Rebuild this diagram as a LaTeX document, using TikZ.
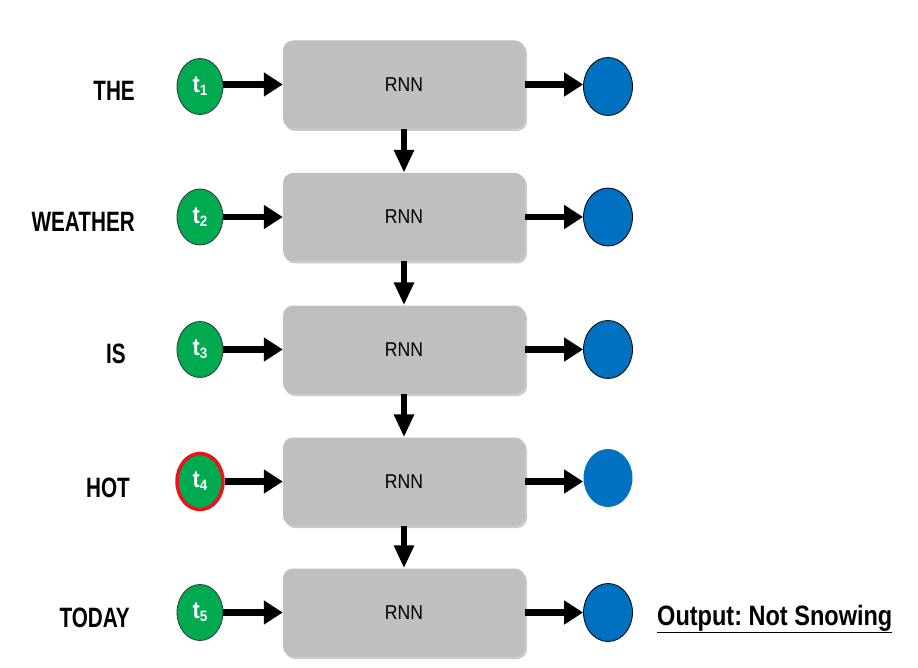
\documentclass[tikz,border=0pt]{standalone}
\usepackage{fontspec}
\setmainfont{Liberation Sans}
\newfontfamily\lblfont[FakeStretch=0.74]{Liberation Sans}
\newfontfamily\outfont[FakeStretch=0.84]{Liberation Sans}
\newfontfamily\rnnfont[FakeStretch=0.88]{Liberation Sans}
\newfontfamily\tfont[FakeStretch=0.9]{Liberation Sans}
\usetikzlibrary{arrows.meta,shapes.geometric,shadows}
\definecolor{ingreen}{RGB}{0,170,80}
\definecolor{outblue}{RGB}{0,112,192}
\definecolor{boxgray}{RGB}{191,191,191}
\definecolor{hotred}{RGB}{232,20,28}
\newcommand{\tsub}[1]{t\raisebox{-3pt}{\fontsize{15}{16}\selectfont #1}}
\frenchspacing
\begin{document}
\begin{tikzpicture}[x=1pt,y=-1pt,
  rnnbox/.style={rectangle, rounded corners=10pt, fill=boxgray, minimum width=242pt, minimum height=88pt,
    drop shadow={shadow xshift=2pt, shadow yshift=-2.5pt, opacity=0.35, fill=black!60},
    font=\rnnfont\fontsize{20}{24}\selectfont},
  innode/.style={ellipse, fill=ingreen, draw=black!80, line width=0.8pt, minimum width=46pt, minimum height=56pt, inner sep=0pt,
    text=white, font=\tfont\bfseries\fontsize{24}{26}\selectfont},
  outnode/.style={ellipse, fill=outblue, draw=black, line width=0.8pt, minimum width=49pt, minimum height=58pt, inner sep=0pt},
  lbl/.style={anchor=east, inner sep=0pt, text depth=0pt, font=\lblfont\bfseries\fontsize{28}{32}\selectfont},
  harr/.style={line width=6.5pt, -{Triangle[length=19pt,width=23pt]}},
  varr/.style={line width=6.5pt, -{Triangle[length=23pt,width=19pt]}}
]
\useasboundingbox (0,0) rectangle (918,668);

% rows
\foreach \i/\y in {1/84.5,2/217,3/349.5,4/481.5,5/612.5}{
  \node[rnnbox] (b\i) at (404,\y) {RNN};
}
\node[innode] (g1) at (200,86.5) {\tsub{1}};
\node[innode] (g2) at (200,217) {\tsub{2}};
\node[innode] (g3) at (200,349.5) {\tsub{3}};
\node[innode, draw=hotred, line width=3.5pt] (g4) at (200,481.5) {\tsub{4}};
\node[innode] (g5) at (200,612.5) {\tsub{5}};

\node[outnode] (o1) at (608,86.5) {};
\node[outnode] (o2) at (608,217) {};
\node[outnode] (o3) at (608,349.5) {};
\node[outnode, draw=none] (o4) at (608,478) {};
\node[outnode] (o5) at (608,612.5) {};

\node[lbl] (l1) at (135,91) {THE};
\node[lbl] (l2) at (135,222) {WEATHER};
\node[lbl] (l3) at (126,354) {IS};
\node[lbl] (l4) at (130,488) {HOT};
\node[lbl] (l5) at (130,618) {TODAY};

\node[anchor=base west, inner sep=0pt, font=\outfont\bfseries\fontsize{28}{32}\selectfont] (res) at (657,625) {\underline{Output: Not Snowing}};

\foreach \i in {1,...,5}{
  \draw[harr] (g\i.east |- b\i) -- (b\i.west);
  \draw[harr] (b\i.east) -- (o\i.west |- b\i);
}
\foreach \i/\j in {1/2,2/3,3/4,4/5}{
  \draw[varr] (b\i.south) -- (b\j.north);
}
\end{tikzpicture}
\end{document}
